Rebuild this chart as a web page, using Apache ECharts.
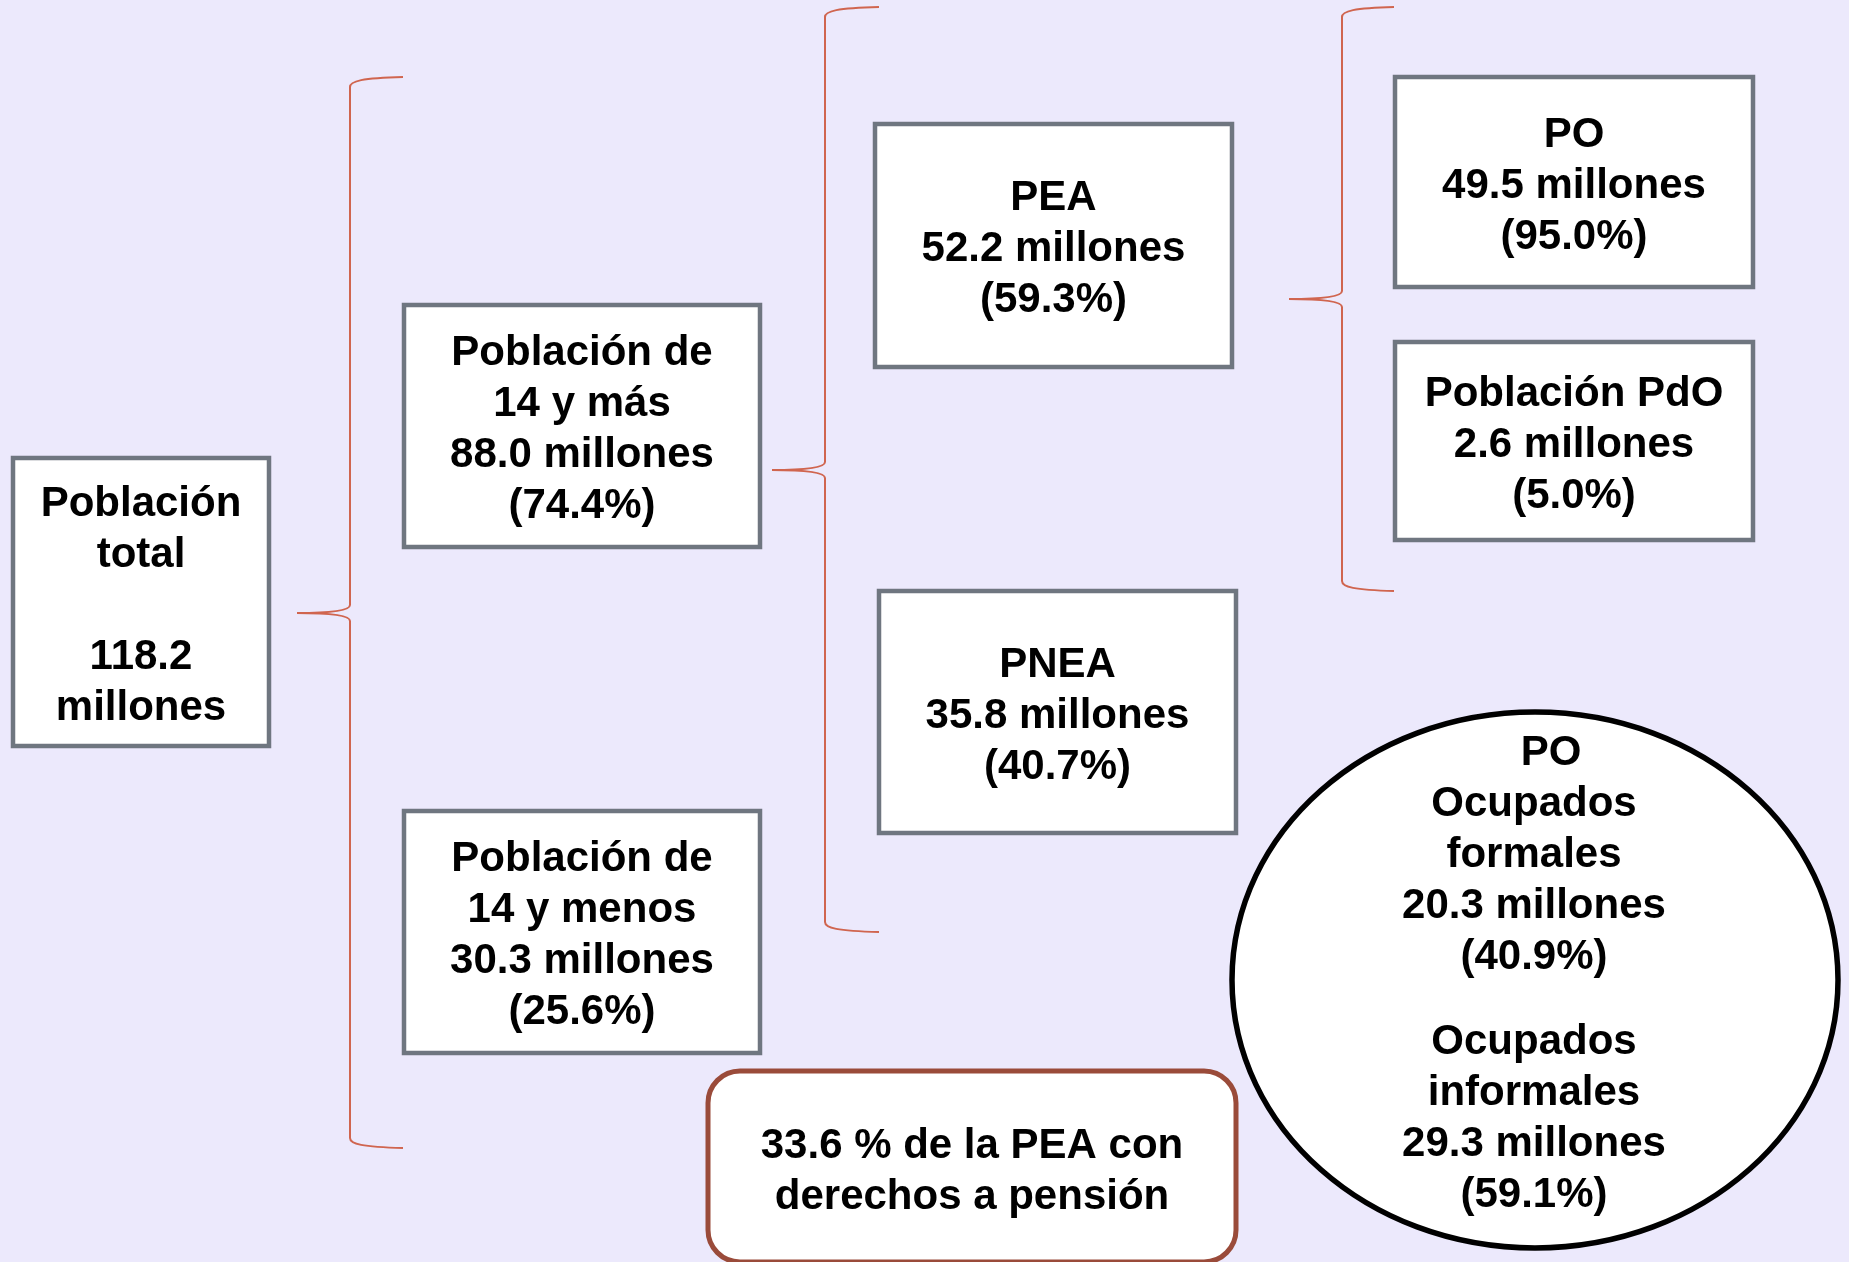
<!DOCTYPE html>
<html>
<head>
<meta charset="utf-8">
<script src="https://cdn.jsdelivr.net/npm/echarts@6/dist/echarts.min.js"></script>
<style>
    html, body {margin: 0; padding: 0; background: #ECE9FC;}
    #diagrama {width: 1849px; height: 1262px;}
</style>
</head>
<body>
<div id="diagrama"></div>
<script>
// Diagrama de la población (millones de personas)

// datos de los recuadros
var nodeTitles = [
    ['Población', 'total'],
    ['Población de', '14 y más'],
    ['Población de', '14 y menos'],
    ['PEA'],
    ['PNEA'],
    ['PO'],
    ['Población PdO']
]
var nodeMillions = [118.2, 88.0, 30.3, 52.2, 35.8, 49.5, 2.6]
var nodeShares = [null, 74.4, 25.6, 59.3, 40.7, 95.0, 5.0]

// datos del círculo
var occTitle = 'PO'
var occGroups = [['Ocupados', 'formales'], ['Ocupados', 'informales']]
var occMillions = [20.3, 29.3]
var occShares = [40.9, 59.1]

var pensionShare = 33.6

// posiciones (en unidades de los ejes ocultos, 1 = 1px)
var nodeBoxes = [
    [13, 458, 269, 746],
    [404, 305, 760, 547],
    [404, 811, 760, 1053],
    [875, 124, 1232, 367],
    [879, 591, 1236, 833],
    [1395, 77, 1753, 287],
    [1395, 342, 1753, 540]
]
// [punta x, centro y, vertical x, extremo x, arriba y, abajo y]
var braces = [
    [297, 613, 350, 403, 77, 1148],
    [772, 470, 825, 879, 7, 932],
    [1289, 299, 1342, 1394, 7, 591]
]
var pensionBox = [[708, 1071, 1236, 1262]]
var occEllipse = [[1535, 980, 303, 268]]

var TEXT_DY = 4 // el texto queda un poco más abajo del centro

var FONT = {
    fontFamily: '"Liberation Sans", Arial, sans-serif',
    fontWeight: 'bold',
    fontSize: 42,
    lineHeight: 51,
    fill: '#000',
    align: 'center',
    verticalAlign: 'middle'
}

function textStyle(text) {
    return Object.assign({text: text}, FONT)
}

function nodeText(i) {
    var lines = nodeTitles[i].slice()
    if (nodeShares[i] === null) {
        lines.push('', nodeMillions[i].toFixed(1), 'millones')
    } else {
        lines.push(nodeMillions[i].toFixed(1) + ' millones', '(' + nodeShares[i].toFixed(1) + '%)')
    }
    return lines.join('\n')
}

var chart = echarts.init(document.getElementById('diagrama'), null, {renderer: 'canvas'})

var option = {
    backgroundColor: '#ECE9FC',
    animation: false,
    grid: {left: 0, right: 0, top: 0, bottom: 0},
    xAxis: {type: 'value', min: 0, max: 1849, show: false},
    yAxis: {type: 'value', min: 0, max: 1262, inverse: true, show: false},
    series: [
        {
            // llaves
            type: 'custom',
            clip: false,
            silent: true,
            data: braces,
            renderItem: function (params, api) {
                var tip = api.coord([api.value(0), api.value(1)])
                var vx = api.coord([api.value(2), 0])[0]
                var ex = api.coord([api.value(3), 0])[0]
                var yt = api.coord([0, api.value(4)])[1]
                var yb = api.coord([0, api.value(5)])[1]
                var xt = tip[0], ym = tip[1]
                var d = 'M' + ex + ',' + yt +
                    ' C' + (vx + 12) + ',' + (yt + 1) + ' ' + vx + ',' + (yt + 4) + ' ' + vx + ',' + (yt + 10) +
                    ' L' + vx + ',' + (ym - 8) +
                    ' C' + vx + ',' + (ym - 2) + ' ' + (vx - 22) + ',' + ym + ' ' + xt + ',' + ym +
                    ' C' + (vx - 22) + ',' + ym + ' ' + vx + ',' + (ym + 2) + ' ' + vx + ',' + (ym + 8) +
                    ' L' + vx + ',' + (yb - 10) +
                    ' C' + vx + ',' + (yb - 4) + ' ' + (vx + 12) + ',' + (yb - 1) + ' ' + ex + ',' + yb
                return {
                    type: 'path',
                    shape: {pathData: d},
                    style: {fill: 'none', stroke: '#D0654F', lineWidth: 2}
                }
            }
        },
        {
            // recuadros
            type: 'custom',
            clip: false,
            silent: true,
            data: nodeBoxes,
            renderItem: function (params, api) {
                var p0 = api.coord([api.value(0), api.value(1)])
                var p1 = api.coord([api.value(2), api.value(3)])
                return {
                    type: 'group',
                    children: [
                        {
                            type: 'rect',
                            shape: {x: p0[0], y: p0[1], width: p1[0] - p0[0], height: p1[1] - p0[1]},
                            style: {fill: '#fff', stroke: '#6F7680', lineWidth: 4.5}
                        },
                        {
                            type: 'text',
                            x: (p0[0] + p1[0]) / 2,
                            y: (p0[1] + p1[1]) / 2 + TEXT_DY,
                            style: textStyle(nodeText(params.dataIndex))
                        }
                    ]
                }
            }
        },
        {
            // derechos a pensión
            type: 'custom',
            clip: false,
            silent: true,
            data: pensionBox,
            renderItem: function (params, api) {
                var p0 = api.coord([api.value(0), api.value(1)])
                var p1 = api.coord([api.value(2), api.value(3)])
                return {
                    type: 'group',
                    children: [
                        {
                            type: 'rect',
                            shape: {x: p0[0], y: p0[1], width: p1[0] - p0[0], height: p1[1] - p0[1], r: 32},
                            style: {fill: '#fff', stroke: '#9A4B3A', lineWidth: 5}
                        },
                        {
                            type: 'text',
                            x: (p0[0] + p1[0]) / 2,
                            y: 1168 + TEXT_DY,
                            style: textStyle(pensionShare.toFixed(1) + ' % de la PEA con\nderechos a pensión')
                        }
                    ]
                }
            }
        },
        {
            // ocupados formales / informales
            type: 'custom',
            clip: false,
            silent: true,
            data: occEllipse,
            renderItem: function (params, api) {
                var c = api.coord([api.value(0), api.value(1)])
                var s = api.size([api.value(2), api.value(3)])
                var kids = [
                    {
                        type: 'ellipse',
                        shape: {cx: c[0], cy: c[1], rx: s[0], ry: s[1]},
                        style: {fill: '#fff', stroke: '#000', lineWidth: 5.5}
                    },
                    {
                        type: 'text',
                        x: c[0] + 16,
                        y: 749 + TEXT_DY,
                        style: textStyle(occTitle)
                    }
                ]
                var centers = [877, 1115]
                for (var k = 0; k < occGroups.length; k++) {
                    var lines = occGroups[k].concat([
                        occMillions[k].toFixed(1) + ' millones',
                        '(' + occShares[k].toFixed(1) + '%)'
                    ])
                    kids.push({
                        type: 'text',
                        x: c[0] - 1,
                        y: centers[k] + TEXT_DY,
                        style: textStyle(lines.join('\n'))
                    })
                }
                return {type: 'group', children: kids}
            }
        }
    ]
}
chart.setOption(option)
</script>
</body>
</html>
